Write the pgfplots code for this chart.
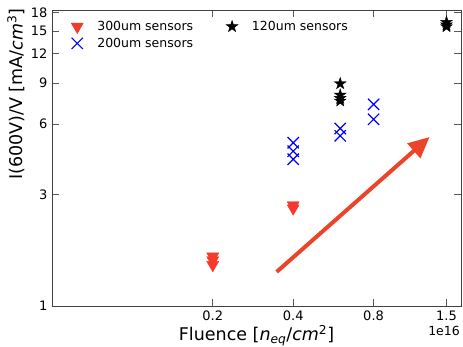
\documentclass[border=0pt]{standalone}
\usepackage{fontspec}
\setmainfont{DejaVu Sans}
\usepackage{pgfplots}
\pgfplotsset{compat=1.18}
\usetikzlibrary{arrows.meta}
\definecolor{mred}{RGB}{245,58,45}
\definecolor{ared}{RGB}{236,68,42}
\definecolor{mblue}{RGB}{0,0,255}
\pgfdeclareplotmark{fstar}{%
  \pgfpathmoveto{\pgfqpoint{0pt}{\pgfplotmarksize}}%
  \pgfpathlineto{\pgfqpoint{0.2245\pgfplotmarksize}{0.309\pgfplotmarksize}}%
  \pgfpathlineto{\pgfqpoint{0.9511\pgfplotmarksize}{0.309\pgfplotmarksize}}%
  \pgfpathlineto{\pgfqpoint{0.3633\pgfplotmarksize}{-0.118\pgfplotmarksize}}%
  \pgfpathlineto{\pgfqpoint{0.5878\pgfplotmarksize}{-0.809\pgfplotmarksize}}%
  \pgfpathlineto{\pgfqpoint{0pt}{-0.382\pgfplotmarksize}}%
  \pgfpathlineto{\pgfqpoint{-0.5878\pgfplotmarksize}{-0.809\pgfplotmarksize}}%
  \pgfpathlineto{\pgfqpoint{-0.3633\pgfplotmarksize}{-0.118\pgfplotmarksize}}%
  \pgfpathlineto{\pgfqpoint{-0.9511\pgfplotmarksize}{0.309\pgfplotmarksize}}%
  \pgfpathlineto{\pgfqpoint{-0.2245\pgfplotmarksize}{0.309\pgfplotmarksize}}%
  \pgfpathclose
  \pgfusepathqfillstroke}
\begin{document}
\begin{tikzpicture}
\begin{axis}[
  scale only axis,
  width=409pt, height=296pt,
  xmode=log, ymode=log,
  xmin=0.05, xmax=1.7, ymin=1, ymax=18.5,
  xtick={0.2,0.4,0.8,1.5},
  xticklabels={0.2,0.4,0.8,1.5},
  ytick={1,3,6,9,12,15,18},
  yticklabels={1,3,6,9,12,15,18},
  minor xtick={}, minor ytick={},
  tick align=inside,
  major tick length=7pt,
  axis line style={black!75, line width=0.9pt},
  tick style={black!65, line width=0.9pt},
  tick label style={font=\fontsize{13}{15}\selectfont, black},
  /pgf/number format/assume math mode=true,
  xticklabel style={yshift=-1pt},
  yticklabel style={xshift=-1pt},
  xlabel={Fluence [\textit{n}\textsubscript{\textit{eq}}/\textit{cm}\textsuperscript{2}]},
  ylabel={I(600V)/V [mA/\textit{cm}\textsuperscript{3}]},
  xlabel style={font=\fontsize{17.5}{20}\selectfont, at={(axis description cs:0.5,-0.117)}, anchor=base},
  ylabel style={font=\fontsize{17.5}{20}\selectfont, at={(axis description cs:-0.088,0.716)}, anchor=center, rotate=0},
  legend columns=2,
  legend style={draw=none, fill=none, at={(rel axis cs:0,1)}, anchor=north west,
    xshift=16pt, yshift=-7pt,
    font=\fontsize{12.5}{14}\selectfont,
    row sep=2pt,
    /tikz/every even column/.append style={column sep=31pt},
    /tikz/every odd column/.append style={column sep=12pt}},
  legend cell align=left,
  legend image code/.code={\draw[mark repeat=2,mark phase=2,#1] plot coordinates {(0pt,0pt) (10pt,0pt) (20pt,0pt)};},
]
\addplot[only marks, mark=triangle*, mark size=7pt, mark options={rotate=180, fill=mred, draw=mred}, color=mred]
  coordinates {(0.2,1.63) (0.2,1.57) (0.2,1.50) (0.4,2.70) (0.4,2.62)};
\addlegendentry{300um sensors}
\addplot[only marks, mark=fstar, mark size=6.2pt, color=black, mark options={fill=black, line width=0.4pt}]
  coordinates {(0.6,8.95) (0.6,8.0) (0.6,7.75) (0.6,7.55) (1.5,16.4) (1.5,16.0) (1.5,15.7)};
\addlegendentry{120um sensors}
\addplot[only marks, mark=x, mark size=8pt, color=mblue, mark options={line width=1.2pt}]
  coordinates {(0.4,5.0) (0.4,4.6) (0.4,4.25) (0.6,5.75) (0.6,5.35) (0.8,7.3) (0.8,6.3)};
\addlegendentry{200um sensors}
\addplot[forget plot, color=ared, line width=4pt, -{Triangle[length=21pt,width=19pt]}]
  coordinates {(0.347,1.40) (1.296,5.29)};
\end{axis}
\node[anchor=base east, font=\fontsize{12.5}{14}\selectfont, inner sep=0pt] at (408pt,-29pt) {1e16};
\pgfresetboundingbox
\path[use as bounding box] (-52pt,-40pt) rectangle (411pt,306pt);
\end{tikzpicture}
\end{document}
